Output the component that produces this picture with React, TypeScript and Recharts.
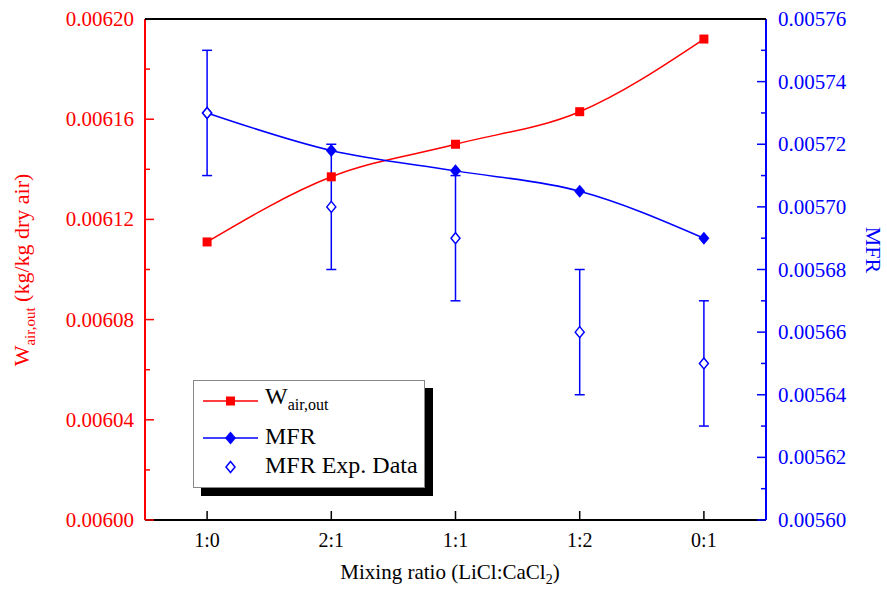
import { ComposedChart, Line, XAxis, YAxis, ErrorBar } from 'recharts';

const categories = ['1:0', '2:1', '1:1', '1:2', '0:1'];
const wAirOut = [0.006111, 0.006137, 0.00615, 0.006163, 0.006192];
const mfrModel = [0.00573, 0.005718, 0.0057115, 0.005705, 0.00569];
const mfrExp = [0.00573, 0.0057, 0.00569, 0.00566, 0.00565];
const mfrErr = [0.00002, 0.00002, 0.00002, 0.00002, 0.00002];

const leftTicks = [0.006, 0.00602, 0.00604, 0.00606, 0.00608, 0.0061, 0.00612, 0.00614, 0.00616, 0.00618, 0.0062];
const leftLabels = [0.006, 0.00604, 0.00608, 0.00612, 0.00616, 0.0062];
const rightTicks = [0.0056, 0.00561, 0.00562, 0.00563, 0.00564, 0.00565, 0.00566, 0.00567, 0.00568, 0.00569, 0.0057, 0.00571, 0.00572, 0.00573, 0.00574, 0.00575, 0.00576];
const rightLabels = [0.0056, 0.00562, 0.00564, 0.00566, 0.00568, 0.0057, 0.00572, 0.00574, 0.00576];

const data = categories.map((cat, i) => ({
  cat,
  w: wAirOut[i],
  mfr: mfrModel[i],
  exp: mfrExp[i],
  err: mfrErr[i],
}));

const FONT = '"Liberation Serif", "DejaVu Serif", serif';
const RED = '#ff0000';
const BLUE = '#0000ff';

const isLabel = (list: number[], v: number) => list.some((t) => Math.abs(t - v) < 1e-9);

const LeftTick = (props: any) => {
  const { x, y, payload } = props;
  const major = isLabel(leftLabels, payload.value);
  return (
    <g>
      <line x1={x} x2={x + (major ? 9 : 5)} y1={y} y2={y} stroke={RED} strokeWidth={1.5} />
      {major && (
        <text x={x - 11} y={y} dy={7} textAnchor="end" fill={RED} fontSize={21} style={{ fontFamily: FONT }}>
          {payload.value.toFixed(5)}
        </text>
      )}
    </g>
  );
};

const RightTick = (props: any) => {
  const { x, y, payload } = props;
  const major = isLabel(rightLabels, payload.value);
  return (
    <g>
      <line x1={x} x2={x - (major ? 9 : 5)} y1={y} y2={y} stroke={BLUE} strokeWidth={1.5} />
      {major && (
        <text x={x + 12} y={y} dy={7} textAnchor="start" fill={BLUE} fontSize={21} style={{ fontFamily: FONT }}>
          {payload.value.toFixed(5)}
        </text>
      )}
    </g>
  );
};

const BottomTick = (props: any) => {
  const { x, y, payload } = props;
  return (
    <g>
      <line x1={x} x2={x} y1={y} y2={y - 9} stroke="#000" strokeWidth={1.5} />
      <text x={x} y={y + 27} textAnchor="middle" fill="#000" fontSize={20} style={{ fontFamily: FONT }}>
        {payload.value}
      </text>
    </g>
  );
};

const Square = (props: any) => {
  const { cx, cy } = props;
  if (cx == null || cy == null) return null;
  return <rect key={`sq-${cx}`} x={cx - 4.5} y={cy - 4.5} width={9} height={9} fill={RED} />;
};

const Diamond = (props: any) => {
  const { cx, cy } = props;
  if (cx == null || cy == null) return null;
  return <path key={`dm-${cx}`} d={`M${cx},${cy - 6.5}L${cx + 5.5},${cy}L${cx},${cy + 6.5}L${cx - 5.5},${cy}Z`} fill={BLUE} />;
};

const HollowDiamond = (props: any) => {
  const { cx, cy } = props;
  if (cx == null || cy == null) return null;
  return (
    <path
      key={`hd-${cx}`}
      d={`M${cx},${cy - 5.5}L${cx + 4.5},${cy}L${cx},${cy + 5.5}L${cx - 4.5},${cy}Z`}
      fill="#fff"
      stroke={BLUE}
      strokeWidth={1.5}
    />
  );
};

const App = () => {
  return (
    <div style={{ position: 'absolute', left: 0, top: 0, width: 887, height: 590, background: '#fff', fontFamily: FONT }}>
      <ComposedChart width={887} height={590} data={data} margin={{ top: 19, right: 0, bottom: 0, left: 0 }}>
        <XAxis
          dataKey="cat"
          scale="band"
          height={70}
          axisLine={{ stroke: '#000', strokeWidth: 2 }}
          tickLine={false}
          tickSize={0}
          tickMargin={0}
          tick={<BottomTick />}
          interval={0}
        />
        <YAxis
          yAxisId="left"
          width={145}
          domain={[0.006, 0.0062]}
          ticks={leftTicks}
          interval={0}
          allowDataOverflow
          axisLine={{ stroke: RED, strokeWidth: 2 }}
          tickLine={false}
          tickSize={0}
          tickMargin={0}
          tick={<LeftTick />}
        />
        <YAxis
          yAxisId="right"
          orientation="right"
          width={121}
          domain={[0.0056, 0.00576]}
          ticks={rightTicks}
          interval={0}
          allowDataOverflow
          axisLine={{ stroke: BLUE, strokeWidth: 2 }}
          tickLine={false}
          tickSize={0}
          tickMargin={0}
          tick={<RightTick />}
        />
        <Line yAxisId="left" dataKey="w" type="monotone" stroke={RED} strokeWidth={1.5} dot={<Square />} activeDot={false} isAnimationActive={false} />
        <Line yAxisId="right" dataKey="mfr" type="monotone" stroke={BLUE} strokeWidth={1.5} dot={<Diamond />} activeDot={false} isAnimationActive={false} />
        <Line yAxisId="right" dataKey="exp" stroke="none" dot={<HollowDiamond />} activeDot={false} isAnimationActive={false}>
          <ErrorBar dataKey="err" direction="y" width={5} stroke={BLUE} strokeWidth={1.5} />
        </Line>
      </ComposedChart>

      {/* top frame of the plot box */}
      <div style={{ position: 'absolute', left: 145, top: 18, width: 621, height: 2, background: '#000' }} />

      {/* axis titles */}
      <div
        style={{
          position: 'absolute', left: 24, top: 270, transform: 'translate(-50%, -50%) rotate(-90deg)',
          whiteSpace: 'nowrap', color: RED, fontSize: 22,
        }}
      >
        W<sub style={{ fontSize: 15 }}>air,out</sub> (kg/kg dry air)
      </div>
      <div
        style={{
          position: 'absolute', left: 873, top: 250, transform: 'translate(-50%, -50%) rotate(90deg)',
          whiteSpace: 'nowrap', color: BLUE, fontSize: 22,
        }}
      >
        MFR
      </div>
      <div style={{ position: 'absolute', left: 450, top: 574, transform: 'translate(-50%, -50%)', whiteSpace: 'nowrap', color: '#000', fontSize: 21 }}>
        Mixing ratio (LiCl:CaCl<sub style={{ fontSize: 14 }}>2</sub>)
      </div>

      {/* legend */}
      <div
        style={{
          position: 'absolute', left: 193, top: 380, width: 230, height: 106, background: '#fff',
          border: '1px solid #888', boxShadow: '8px 8px 0 #000', fontSize: 24, color: '#000',
        }}
      >
        <svg width={70} height={106} style={{ position: 'absolute', left: 0, top: 0 }}>
          <line x1={9} x2={64} y1={20} y2={20} stroke={RED} strokeWidth={1.5} />
          <rect x={32} y={15.5} width={9} height={9} fill={RED} />
          <line x1={9} x2={64} y1={57} y2={57} stroke={BLUE} strokeWidth={1.5} />
          <path d="M36.5,50.5L42,57L36.5,63.5L31,57Z" fill={BLUE} />
          <path d="M36.5,80.5L41,86L36.5,91.5L32,86Z" fill="#fff" stroke={BLUE} strokeWidth={1.5} />
        </svg>
        <div style={{ position: 'absolute', left: 71, top: 2, whiteSpace: 'nowrap' }}>
          W<sub style={{ fontSize: 16 }}>air,out</sub>
        </div>
        <div style={{ position: 'absolute', left: 71, top: 42, whiteSpace: 'nowrap' }}>MFR</div>
        <div style={{ position: 'absolute', left: 71, top: 71, whiteSpace: 'nowrap' }}>MFR Exp. Data</div>
      </div>
    </div>
  );
};

export default App;
